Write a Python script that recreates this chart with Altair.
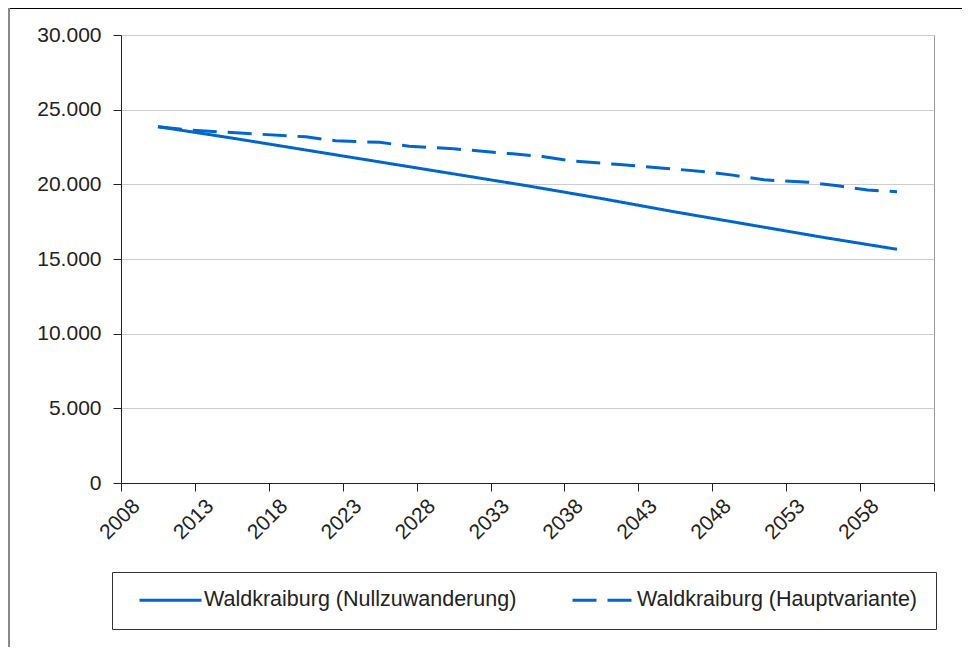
import altair as alt
import pandas as pd

# ---- data ----
series_names = ["Waldkraiburg (Nullzuwanderung)", "Waldkraiburg (Hauptvariante)"]

years_null = [2010, 2015, 2020, 2025, 2030, 2035, 2040, 2045, 2050, 2055, 2060]
values_null = [23860, 23100, 22300, 21500, 20700, 19900, 19050, 18150, 17300, 16450, 15650]

years_haupt = [2010, 2012, 2015, 2017, 2020, 2022, 2025, 2027, 2030, 2034, 2036, 2038,
               2039, 2041, 2044, 2047, 2049, 2051, 2054, 2056, 2058, 2060]
values_haupt = [23860, 23640, 23470, 23350, 23180, 22920, 22810, 22550, 22380, 22040, 21860, 21560,
                21490, 21340, 21100, 20850, 20600, 20300, 20140, 19900, 19620, 19500]

x_tick_bounds = [2007.5 + 5 * i for i in range(12)]   # category boundaries
y_ticks = [0, 5000, 10000, 15000, 20000, 25000, 30000]

df = pd.concat([
    pd.DataFrame({"Jahr": years_null, "Wert": values_null, "Reihe": series_names[0]}),
    pd.DataFrame({"Jahr": years_haupt, "Wert": values_haupt, "Reihe": series_names[1]}),
], ignore_index=True)

W, H = 813, 448
per_year = W / 55.0
BLUE = "#0066CC"
FONT = "Liberation Sans"

lines = alt.Chart(df).mark_line(strokeWidth=3, color=BLUE).encode(
    x=alt.X("Jahr:Q",
            scale=alt.Scale(domain=[2007.5, 2062.5], nice=False, zero=False),
            axis=alt.Axis(values=x_tick_bounds,
                          labelExpr="datum.value > 2060 ? '' : format(datum.value + 0.5, 'd')",
                          labelAngle=-45, labelOffset=per_year / 2, labelPadding=4,
                          tickSize=8, grid=False, title=None)),
    y=alt.Y("Wert:Q",
            scale=alt.Scale(domain=[0, 30000], nice=False),
            axis=alt.Axis(values=y_ticks,
                          labelExpr="replace(format(datum.value, ','), ',', '.')",
                          tickSize=8, labelPadding=12, title=None, grid=True,
                          gridColor="#cccccc", gridWidth=1)),
    strokeDash=alt.StrokeDash(
        "Reihe:N",
        scale=alt.Scale(domain=series_names, range=[[1, 0], [24, 11]]),
        legend=alt.Legend(title=None, orient="none", legendX=-9, legendY=537,
                          direction="horizontal", columns=2,
                          symbolType="stroke", symbolSize=3844, symbolStrokeWidth=3,
                          symbolStrokeColor=BLUE, symbolFillColor="transparent",
                          clipHeight=20, padding=18, strokeColor="#333333",
                          labelFontSize=21.5, labelFont=FONT, labelColor="#222222",
                          columnPadding=46, symbolOffset=8, labelOffset=1, labelLimit=0)),
)

frame_data = alt.Data(values=[{"k": 1}])
frame_top = alt.Chart(frame_data).mark_rule(color="#000000", strokeWidth=1).encode(
    x=alt.value(-114), x2=alt.value(860), y=alt.value(-26.5))
frame_left = alt.Chart(frame_data).mark_rule(color="#888888", strokeWidth=2).encode(
    x=alt.value(-112), y=alt.value(-27), y2=alt.value(640))

chart = alt.layer(frame_top, frame_left, lines).properties(
    width=W, height=H,
    padding={"left": 113, "top": 27, "right": 28, "bottom": 164},
    autosize=alt.AutoSizeParams(type="none"),
).configure(font=FONT).configure_view(
    stroke="#999999", strokeWidth=1
).configure_axis(
    labelFont=FONT, labelFontSize=21, labelColor="#222222",
    domainColor="#222222", tickColor="#222222", domainWidth=1, tickWidth=1,
)

chart.save("out.html", embed_options={"renderer": "svg", "actions": False})
